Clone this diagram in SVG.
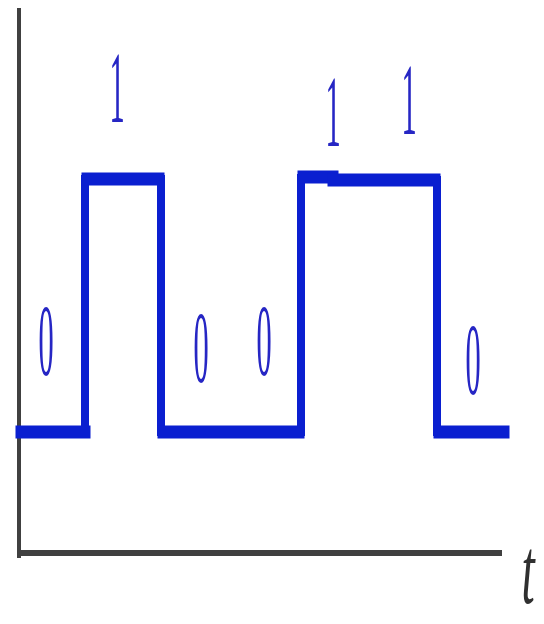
<svg xmlns="http://www.w3.org/2000/svg" width="544" height="624" viewBox="0 0 544 624">
  <style>
    .axis { stroke: #404040; fill: none; }
    .sig { stroke: #0a1fd0; fill: none; stroke-linecap: square; }
    .h { stroke-width: 13; }
    .v { stroke-width: 8; }
    .digit { font-family: "Liberation Serif", "Times New Roman", serif; font-size: 38px; fill: #2626c4; text-anchor: middle; }
    .tlab { font-family: "Liberation Serif", "Times New Roman", serif; font-style: italic; font-size: 50px; fill: #303030; text-anchor: middle; }
  </style>
  <rect width="544" height="624" fill="#ffffff"/>
  <g id="axes">
    <line class="axis" x1="19" y1="8" x2="19" y2="558" stroke-width="4"/>
    <line class="axis" x1="19" y1="553" x2="502" y2="553" stroke-width="6"/>
    <text class="tlab" transform="translate(528,603) scale(0.95,1.9)">t</text>
  </g>
  <g id="signal">
    <line class="sig h" x1="22" y1="432" x2="84" y2="432"/>
    <line class="sig v" x1="85" y1="432" x2="85" y2="179"/>
    <line class="sig h" x1="88" y1="179" x2="158" y2="179"/>
    <line class="sig v" x1="161" y1="179" x2="161" y2="432"/>
    <line class="sig h" x1="164" y1="432" x2="298" y2="432"/>
    <line class="sig v" x1="301" y1="432" x2="301" y2="178"/>
    <line class="sig h" x1="304" y1="177" x2="332" y2="177"/>
    <line class="sig h" x1="334" y1="180" x2="434" y2="180"/>
    <line class="sig v" x1="437" y1="180" x2="437" y2="432"/>
    <line class="sig h" x1="440" y1="432" x2="503" y2="432"/>
  </g>
  <g id="labels">
    <text class="digit" transform="translate(46,375) scale(0.8,2.7)">0</text>
    <text class="digit" transform="translate(117,122) scale(0.8,2.7)">1</text>
    <text class="digit" transform="translate(201,382) scale(0.8,2.7)">0</text>
    <text class="digit" transform="translate(264,375) scale(0.8,2.7)">0</text>
    <text class="digit" transform="translate(333,146) scale(0.8,2.7)">1</text>
    <text class="digit" transform="translate(409,134) scale(0.8,2.7)">1</text>
    <text class="digit" transform="translate(473,394) scale(0.8,2.7)">0</text>
  </g>
</svg>
